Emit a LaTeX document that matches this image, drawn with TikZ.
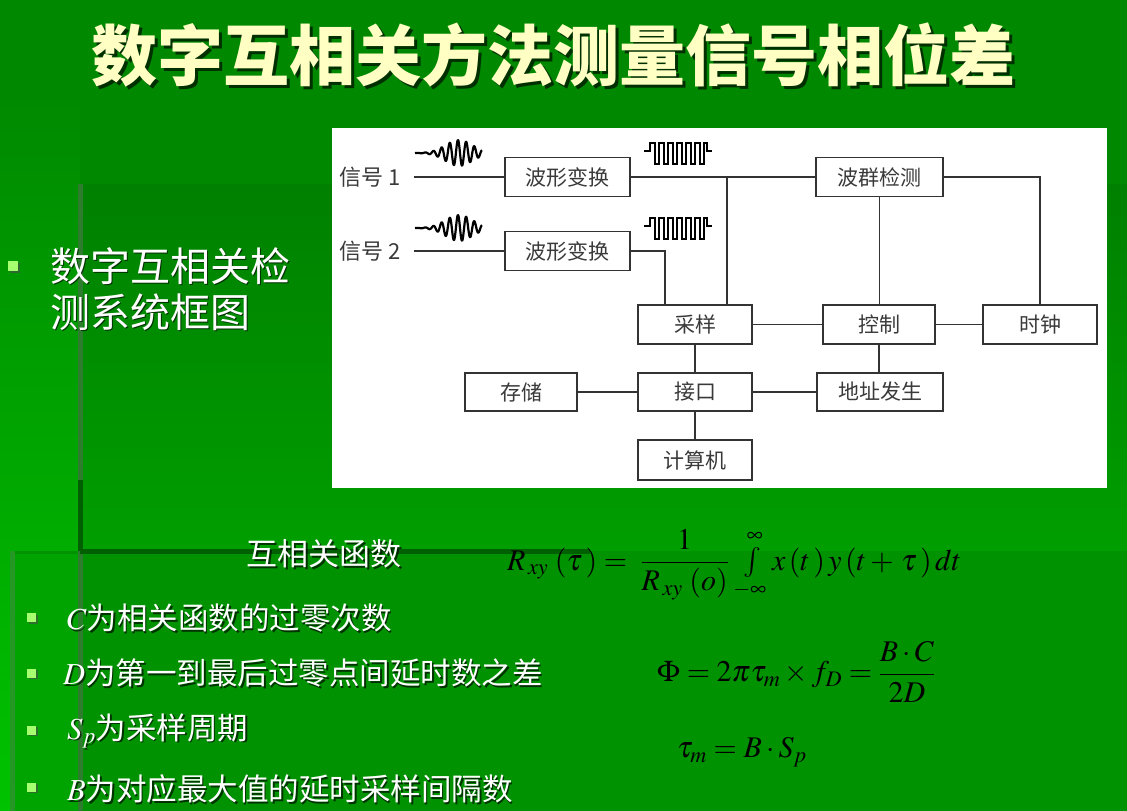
\documentclass[tikz,border=0pt]{standalone}
\usepackage{mathptmx}
\usepackage[no-math]{fontspec}
\newfontfamily\cjk{Noto Sans CJK SC}
\newfontfamily\tnr{Liberation Serif}
\definecolor{bgbase}{HTML}{008800}
\definecolor{striptop}{HTML}{008A00}
\definecolor{stripbot}{HTML}{00C200}
\definecolor{panAtop}{HTML}{008000}
\definecolor{panAbot}{HTML}{009E00}
\definecolor{panB}{HTML}{009200}
\definecolor{panBleft}{HTML}{00A400}
\definecolor{edgegr}{HTML}{2E7D2E}
\definecolor{edgedark}{HTML}{005F00}
\definecolor{titlecol}{HTML}{FFFFC4}
\definecolor{bulletcol}{HTML}{A6FF6E}
\definecolor{boxline}{HTML}{333333}
\definecolor{boxtext}{HTML}{3A3A3A}
\tikzset{
  blk/.style={draw=boxline, line width=1.4pt, fill=white, inner sep=0pt, minimum height=39pt,
    text=boxtext, font=\cjk\fontsize{21}{21}\selectfont},
  conn/.style={draw=boxline, line width=1.1pt},
  wave/.style={line width=2.2pt, black, line join=round},
  shadowtxt/.style={text=black, opacity=0.65},
  whitetxt/.style={text=white},
  bul/.style={fill=bulletcol, minimum size=10pt, inner sep=0pt},
  bulsh/.style={fill=black!70, opacity=0.6, minimum size=10pt, inner sep=0pt},
  formula/.style={text=black, inner sep=0pt, font=\fontsize{30}{34}\selectfont},
}
\begin{document}
\begin{tikzpicture}[x=1pt,y=-1pt]
% ---------- background ----------
\useasboundingbox (0,0) rectangle (1127,811);
\fill[bgbase] (0,0) rectangle (1127,811);
\shade[top color=striptop, bottom color=stripbot] (0,100) rectangle (80,811);
\shade[top color=panAtop, bottom color=panAbot] (80,184) rectangle (1127,551);
\fill[panB] (10,551) rectangle (1127,811);
\fill[panBleft] (15,554) rectangle (80,811);
\fill[edgegr] (78,184) rectangle (83,811);
\fill[edgedark] (78,480) rectangle (83,551);
\fill[edgedark] (80,549) rectangle (590,554);
\fill[edgegr!80!green] (10,551) rectangle (15,811);
% ---------- title ----------
\node[shadowtxt, font=\cjk\bfseries\fontsize{66}{66}\selectfont, inner sep=0pt] (titlesh) at (556,58) {数字互相关方法测量信号相位差};
\node[text=titlecol, font=\cjk\bfseries\fontsize{66}{66}\selectfont, inner sep=0pt] (title) at (553,55) {数字互相关方法测量信号相位差};
% ---------- left bullet ----------
\node[bulsh] (b0s) at (14.5,267.5) {};
\node[bul] (b0) at (12.5,265.5) {};
\node[shadowtxt, anchor=west, inner sep=0pt, font=\cjk\fontsize{40}{40}\selectfont] (l1s) at (51.5,267.5) {数字互相关检};
\node[whitetxt, anchor=west, inner sep=0pt, font=\cjk\fontsize{40}{40}\selectfont] (l1) at (50,266) {数字互相关检};
\node[shadowtxt, anchor=west, inner sep=0pt, font=\cjk\fontsize{40}{40}\selectfont] (l2s) at (51.5,313.5) {测系统框图};
\node[whitetxt, anchor=west, inner sep=0pt, font=\cjk\fontsize{40}{40}\selectfont] (l2) at (50,312) {测系统框图};
% ---------- diagram ----------
\fill[white] (332,128) rectangle (1107,488);
\node[text=boxtext, font=\cjk\fontsize{22}{22}\selectfont, inner sep=0pt] (s1) at (370,177) {信号 1};
\node[text=boxtext, font=\cjk\fontsize{22}{22}\selectfont, inner sep=0pt] (s2) at (370,251) {信号 2};
\coordinate (s1e) at (414,177);
\coordinate (s2e) at (414,251);
\node[blk, minimum width=125pt] (bx1) at (567.5,177) {波形变换};
\node[blk, minimum width=125pt] (bx2) at (567.5,251) {波形变换};
\node[blk, minimum width=127pt] (bq) at (879.5,177) {波群检测};
\node[blk, minimum width=114pt] (cy) at (695,324.5) {采样};
\node[blk, minimum width=112pt] (kz) at (879,324.5) {控制};
\node[blk, minimum width=114pt] (sz) at (1040,324.5) {时钟};
\node[blk, minimum width=112pt, minimum height=38pt] (cc) at (521,392) {存储};
\node[blk, minimum width=114pt, minimum height=38pt] (jk) at (695,392) {接口};
\node[blk, minimum width=126pt, minimum height=38pt] (dz) at (880,392) {地址发生};
\node[blk, minimum width=114pt, minimum height=40pt] (js) at (695,460) {计算机};
\coordinate (j1) at (727,177);
\coordinate (j2) at (665,251);
\draw[conn] (s1e) -- (bx1.west);
\draw[conn] (s2e) -- (bx2.west);
\draw[conn] (bx1.east) -- (bq.west);
\draw[conn] (j1) -- (j1 |- cy.north);
\draw[conn] (bx2.east) -- (j2) -- (j2 |- cy.north);
\draw[conn] (bq.east) -| (sz.north);
\draw[conn] (bq.south) -- (bq.south |- kz.north);
\draw[conn] (cy.east) -- (kz.west);
\draw[conn] (kz.east) -- (sz.west);
\draw[conn] (kz.south) -- (kz.south |- dz.north);
\draw[conn] (cy.south) -- (jk.north);
\draw[conn] (cc.east) -- (jk.west);
\draw[conn] (jk.east) -- (dz.west);
\draw[conn] (jk.south) -- (js.north);
% waves
\foreach \yy in {153,228}{
  \draw[wave] plot[domain=0:67, samples=260] ({415+\x}, {\yy-13*exp(-((\x-44)/19)^2)*sin(\x*44)});
  \draw[wave, line join=miter, line width=2pt] (644,\yy-2) -- (650,\yy-2) -- (650,\yy-10)
    \foreach \k in {0,...,5}{ -- ++(4.5,0) -- ++(0,21) -- ++(4.5,0) -- ++(0,-21) }
    -- ++(3,0) -- ++(0,8) -- (712,\yy-2);
}
% ---------- lower text ----------
\node[shadowtxt, font=\cjk\fontsize{31}{31}\selectfont, inner sep=0pt] (hxs) at (325.5,555.5) {互相关函数};
\node[whitetxt, font=\cjk\fontsize{31}{31}\selectfont, inner sep=0pt] (hx) at (324,554) {互相关函数};
\foreach \yy/\nm in {617.5/ba,673/bb,730/bc,787/bd}{
  \node[bulsh, minimum size=9pt] (\nm s) at (33,\yy+1.5) {};
  \node[bul, minimum size=9pt] (\nm) at (31.5,\yy) {};
}
\tikzset{lowtxt/.style={anchor=west, inner sep=0pt, font=\cjk\fontsize{30.5}{34}\selectfont}}
\node[lowtxt, shadowtxt] (t1s) at (68.5,619.5) {$C$为相关函数的过零次数};
\node[lowtxt, whitetxt] (t1) at (67,618) {$C$为相关函数的过零次数};
\node[lowtxt, shadowtxt] (t2s) at (64.5,674.5) {$D$为第一到最后过零点间延时数之差};
\node[lowtxt, whitetxt] (t2) at (63,673) {$D$为第一到最后过零点间延时数之差};
\node[lowtxt, shadowtxt] (t3s) at (68.5,732.5) {$S_p$为采样周期};
\node[lowtxt, whitetxt] (t3) at (67,731) {$S_p$为采样周期};
\node[lowtxt, shadowtxt] (t4s) at (68.5,790.5) {$B$为对应最大值的延时采样间隔数};
\node[lowtxt, whitetxt] (t4) at (67,789) {$B$为对应最大值的延时采样间隔数};
% ---------- formulas ----------
\node[formula, anchor=west] (f1) at (507,565) {$\displaystyle R_{\,xy}\,\left(\tau\,\right)=\;\frac{1}{R_{\,xy}\,\left(o\right)}\;{\textstyle\int\limits_{-\infty}^{\infty}}\,x\left(t\,\right)y\left(t+\,\tau\,\right)dt$};
\node[formula, anchor=west] (f2) at (657,672) {$\displaystyle \Phi=2\pi\tau_{m}\times f_{D}=\frac{B\cdot C}{2D}$};
\node[formula, anchor=west] (f3) at (677,752) {$\tau_{m}=B\cdot S_{p}$};
\end{tikzpicture}
\end{document}
